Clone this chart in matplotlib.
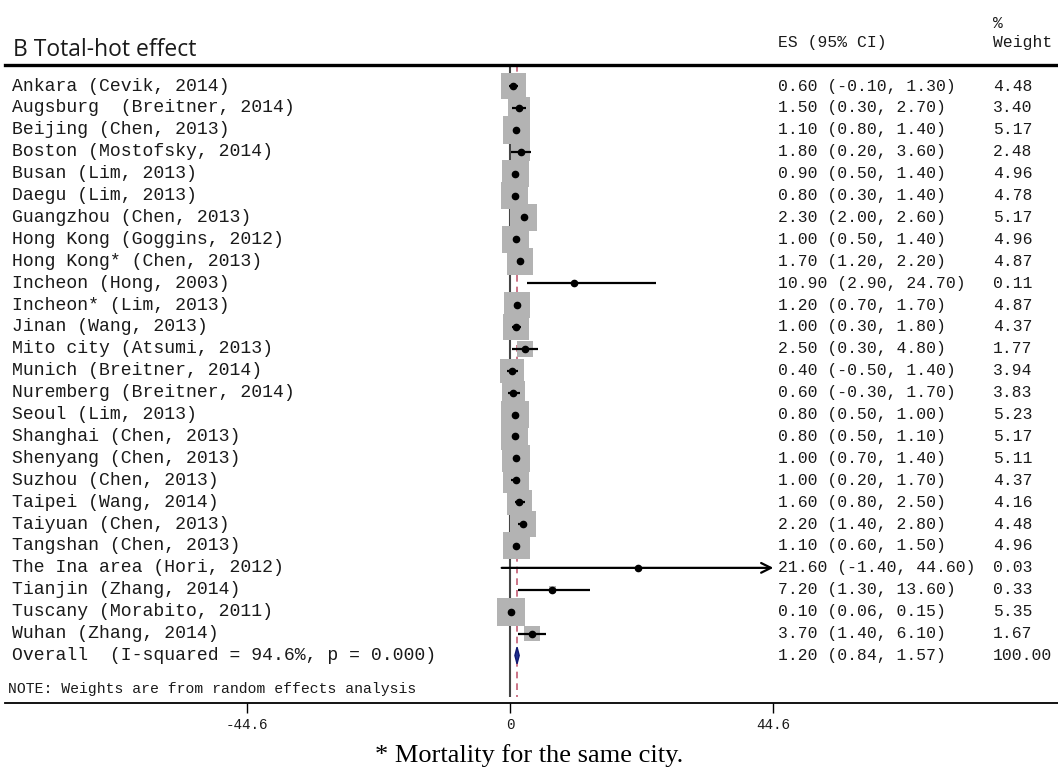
import numpy as np
import matplotlib.pyplot as plt
import matplotlib.transforms as mtransforms
from matplotlib.patches import Polygon

# Studies (top to bottom)
studies = ["Ankara (Cevik, 2014)", "Augsburg  (Breitner, 2014)", "Beijing (Chen, 2013)",
           "Boston (Mostofsky, 2014)", "Busan (Lim, 2013)", "Daegu (Lim, 2013)",
           "Guangzhou (Chen, 2013)", "Hong Kong (Goggins, 2012)", "Hong Kong* (Chen, 2013)",
           "Incheon (Hong, 2003)", "Incheon* (Lim, 2013)", "Jinan (Wang, 2013)",
           "Mito city (Atsumi, 2013)", "Munich (Breitner, 2014)", "Nuremberg (Breitner, 2014)",
           "Seoul (Lim, 2013)", "Shanghai (Chen, 2013)", "Shenyang (Chen, 2013)",
           "Suzhou (Chen, 2013)", "Taipei (Wang, 2014)", "Taiyuan (Chen, 2013)",
           "Tangshan (Chen, 2013)", "The Ina area (Hori, 2012)", "Tianjin (Zhang, 2014)",
           "Tuscany (Morabito, 2011)", "Wuhan (Zhang, 2014)"]
es = [0.60, 1.50, 1.10, 1.80, 0.90, 0.80, 2.30, 1.00, 1.70, 10.90, 1.20, 1.00, 2.50,
      0.40, 0.60, 0.80, 0.80, 1.00, 1.00, 1.60, 2.20, 1.10, 21.60, 7.20, 0.10, 3.70]
lo = [-0.10, 0.30, 0.80, 0.20, 0.50, 0.30, 2.00, 0.50, 1.20, 2.90, 0.70, 0.30, 0.30,
      -0.50, -0.30, 0.50, 0.50, 0.70, 0.20, 0.80, 1.40, 0.60, -1.40, 1.30, 0.06, 1.40]
hi = [1.30, 2.70, 1.40, 3.60, 1.40, 1.40, 2.60, 1.40, 2.20, 24.70, 1.70, 1.80, 4.80,
      1.40, 1.70, 1.00, 1.10, 1.40, 1.70, 2.50, 2.80, 1.50, 44.60, 13.60, 0.15, 6.10]
weight = [4.48, 3.40, 5.17, 2.48, 4.96, 4.78, 5.17, 4.96, 4.87, 0.11, 4.87, 4.37, 1.77,
          3.94, 3.83, 5.23, 5.17, 5.11, 4.37, 4.16, 4.48, 4.96, 0.03, 0.33, 5.35, 1.67]

overall_label = "Overall  (I-squared = 94.6%, p = 0.000)"
overall_es, overall_lo, overall_hi, overall_w = 1.20, 0.84, 1.57, 100.00

xticks = [-44.6, 0, 44.6]
xticklabels = ["-44.6", "0", "44.6"]
plot_max = 44.6

W, H = 1058, 776
fig = plt.figure(figsize=(W / 100, H / 100), dpi=100)
ax = fig.add_axes([5 / W, 1 - 703 / H, 1 - 5 / W, (703 - 65) / H])

ax.set_xlim(-85.5, 92.8)
ax.set_ylim(28.17, -0.96)

rows = np.arange(len(studies))
n = len(studies)
es_a, lo_a, hi_a, w_a = map(np.array, (es, lo, hi, weight))

# reference lines
ax.vlines(0, -0.96, 27.9, color='#444444', lw=1.5, zorder=1)
ax.vlines(overall_es, -0.96, 27.9, color='#c25b72', lw=1.2,
          linestyles=(0, (4, 3)), zorder=1)

# weight boxes
ax.scatter(es_a, rows, s=76 * w_a, marker='s', color='#b3b3b3', lw=0, zorder=2)

# confidence intervals
clip = hi_a >= plot_max
ax.hlines(rows[~clip], lo_a[~clip], hi_a[~clip], color='black', lw=1.6, zorder=3)
for r in rows[clip]:
    ax.annotate('', xy=(plot_max, r), xytext=(lo_a[r], r),
                arrowprops=dict(arrowstyle='->,head_length=0.7,head_width=0.35',
                                color='black', lw=1.6, shrinkA=0, shrinkB=0), zorder=3)
ax.plot(es_a, rows, 'o', color='black', ms=4.5, zorder=4)

# overall diamond
h = 0.38
ax.add_patch(Polygon([(overall_lo, n), (overall_es, n - h), (overall_hi, n), (overall_es, n + h)],
                     closed=True, facecolor='#1f2f8f', edgecolor='#101870', lw=1, zorder=4))

# text columns
tr = mtransforms.blended_transform_factory(fig.transFigure, ax.transData)
mono = 'Liberation Mono'
tcol = '#1a1a1a'
for i, name in enumerate(studies + [overall_label]):
    ax.text(12 / W, i, name, transform=tr, family=mono, size=13.1, va='center', color=tcol)
all_es = es + [overall_es]
all_lo = lo + [overall_lo]
all_hi = hi + [overall_hi]
all_w = weight + [overall_w]
for i in range(n + 1):
    ax.text(778 / W, i, f"{all_es[i]:.2f} ({all_lo[i]:.2f}, {all_hi[i]:.2f})",
            transform=tr, family=mono, size=11.8, va='center', color=tcol)
    ax.text(993 / W, i, f"{all_w[i]:.2f}", transform=tr, family=mono, size=11.8,
            va='center', color=tcol)
ax.text(8 / W, 27.55, "NOTE: Weights are from random effects analysis", transform=tr,
        family=mono, size=10.6, va='center', color=tcol)

# headers
fig.text(13 / W, 1 - 50 / H, "B Total-hot effect", family='Open Sans', size=16.5,
         va='center', color=tcol)
fig.text(778 / W, 1 - 43 / H, "ES (95% CI)", family=mono, size=11.8, va='center', color=tcol)
fig.text(993 / W, 1 - 23 / H, "%", family=mono, size=11.8, va='center', color=tcol)
fig.text(993 / W, 1 - 43 / H, "Weight", family=mono, size=11.8, va='center', color=tcol)

# axes styling
for s in ('left', 'right'):
    ax.spines[s].set_visible(False)
ax.spines['top'].set_linewidth(2.4)
ax.spines['bottom'].set_linewidth(1.3)
ax.set_yticks([])
ax.set_xticks(xticks, labels=xticklabels)
ax.tick_params(axis='x', direction='out', length=7, width=1, pad=4)
for lab in ax.get_xticklabels():
    lab.set_family(mono)
    lab.set_fontsize(10.3)
    lab.set_color(tcol)

fig.text(529 / W, 1 - 756 / H, "* Mortality for the same city.", family='Liberation Serif',
         size=19, ha='center', va='center', color='black')

fig.savefig('out.png', dpi=100)
